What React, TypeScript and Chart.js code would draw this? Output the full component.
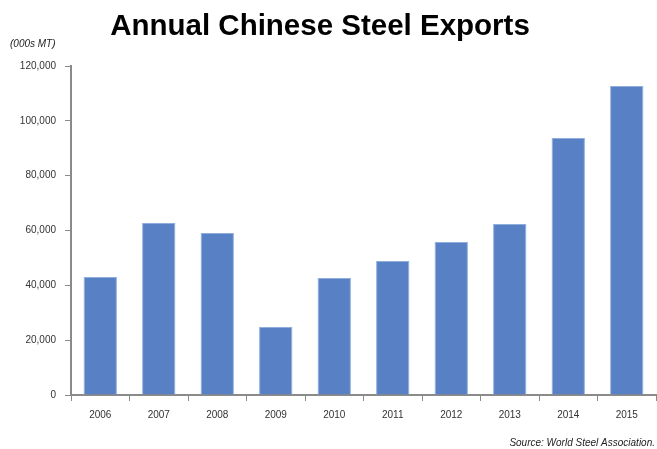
import React, { useEffect, useRef } from "react";
import { Chart, registerables } from "chart.js";

Chart.register(...registerables);

const years = ["2006", "2007", "2008", "2009", "2010", "2011", "2012", "2013", "2014", "2015"];
const exports000 = [43000, 62700, 59100, 24800, 42700, 48900, 55800, 62400, 93700, 112700];
const titleText = "Annual Chinese Steel Exports";
const unitText = "(000s MT)";
const sourceText = "Source: World Steel Association.";

const NARROW = "'Liberation Sans Narrow', 'Liberation Sans', Arial, sans-serif";

const textPlugin = {
  id: "texts",
  afterDraw(chart: any) {
    const ctx = chart.ctx;
    ctx.save();
    ctx.fillStyle = "#000";
    ctx.font = "bold 29.5px 'Liberation Sans', Arial, sans-serif";
    ctx.textAlign = "center";
    ctx.textBaseline = "alphabetic";
    ctx.fillText(titleText, 320, 35);
    ctx.fillStyle = "#222";
    ctx.font = "italic 10px " + NARROW;
    ctx.textAlign = "left";
    ctx.fillText(unitText, 10, 47);
    ctx.textAlign = "right";
    ctx.fillText(sourceText, 655, 446);
    ctx.restore();
  },
};

export default function App() {
  const ref = useRef<HTMLCanvasElement>(null);
  useEffect(() => {
    document.body.style.margin = "0";
    const chart = new Chart(ref.current!, {
      type: "bar",
      data: {
        labels: years,
        datasets: [
          {
            data: exports000,
            backgroundColor: "#5781C4",
            borderColor: "#8FAEDB",
            borderWidth: { top: 1, left: 1, right: 1, bottom: 0 },
            barPercentage: 0.57,
            categoryPercentage: 1,
          },
        ],
      },
      plugins: [textPlugin],
      options: {
        animation: false,
        responsive: false,
        layout: { padding: { top: 66, right: 1, bottom: 0, left: 0 } },
        plugins: { legend: { display: false }, tooltip: { enabled: false }, title: { display: false } },
        scales: {
          x: {
            afterFit: (s: any) => {
              s.height = 449 - 395;
            },
            grid: { offset: true, drawOnChartArea: false, tickLength: 6, color: "#8a8a8a", lineWidth: 1 },
            border: { color: "#8a8a8a", width: 2 },
            ticks: { color: "#333", font: { family: NARROW, size: 10 }, padding: 8 },
          },
          y: {
            min: 0,
            max: 120000,
            afterFit: (s: any) => {
              s.width = 71;
            },
            grid: { drawOnChartArea: false, tickLength: 6, color: "#8a8a8a", lineWidth: 1 },
            border: { color: "#8a8a8a", width: 2 },
            ticks: {
              stepSize: 20000,
              color: "#333",
              font: { family: NARROW, size: 10 },
              padding: 9,
              callback: (v: any) => Number(v).toLocaleString("en-US"),
            },
          },
        },
      },
    });
    return () => chart.destroy();
  }, []);
  return (
    <div style={{ position: "absolute", left: 0, top: 0, width: 657, height: 449 }}>
      <canvas ref={ref} width={657} height={449} style={{ width: 657, height: 449, display: "block" }} />
    </div>
  );
}
